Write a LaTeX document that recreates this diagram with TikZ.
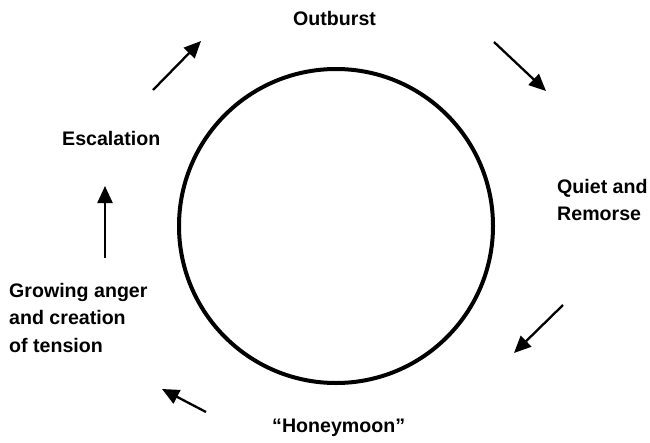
\documentclass[tikz,border=0pt]{standalone}
\usepackage{fontspec}
\setmainfont{Liberation Sans}
\usetikzlibrary{arrows.meta}
\begin{document}
\begin{tikzpicture}[x=1pt,y=-1pt,
  lbl/.style={font=\bfseries\fontsize{19.6}{27.5}\selectfont, inner sep=0pt, align=left, anchor=base west},
  arr/.style={line width=2.3pt, -{Triangle[length=17pt,width=15pt]}}]
\useasboundingbox (0,0) rectangle (650,442);
\node[draw, circle, line width=4pt, minimum size=314pt, inner sep=0pt] (c) at (336,226) {};
\node[lbl] (out) at (293,25) {Outburst};
\node[lbl] (esc) at (62,145) {Escalation};
\node[lbl] (qr) at (557,220.5) {Quiet and\\Remorse};
\node[lbl] (ga) at (9,352) {Growing anger\\and creation\\of tension};
\node[lbl] (hm) at (272,432) {``Honeymoon''};
\coordinate (a1s) at (153,90); \coordinate (a1e) at (201,41);
\coordinate (a2s) at (494,42); \coordinate (a2e) at (546,91);
\coordinate (a3s) at (563,305); \coordinate (a3e) at (514,353);
\coordinate (a4s) at (206,412); \coordinate (a4e) at (162,389);
\coordinate (a5s) at (105,258); \coordinate (a5e) at (105,186);
\draw[arr] (a1s) -- (a1e);
\draw[arr] (a2s) -- (a2e);
\draw[arr] (a3s) -- (a3e);
\draw[arr] (a4s) -- (a4e);
\draw[arr] (a5s) -- (a5e);
\end{tikzpicture}
\end{document}
